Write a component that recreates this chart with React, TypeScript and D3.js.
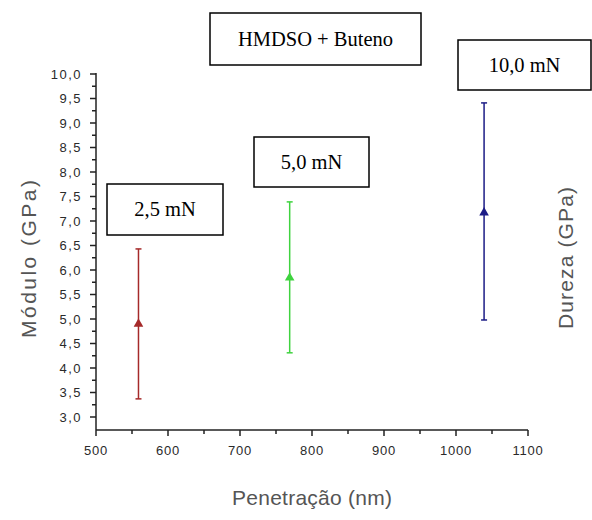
import React from 'react';
import * as d3 from 'd3';

// carga aplicada, penetração (nm), módulo (GPa) e barra de erro
const loads = ['2,5 mN', '5,0 mN', '10,0 mN'];
const penetration = [559, 769, 1039];
const modulus = [4.9, 5.84, 7.17];
const errLow = [3.37, 4.31, 4.98];
const errHigh = [6.43, 7.39, 9.41];
const colors = ['#a52a2a', '#3fd33f', '#1c1c86'];

const xTicks = [500, 600, 700, 800, 900, 1000, 1100];
const yTicks = [3, 3.5, 4, 4.5, 5, 5.5, 6, 6.5, 7, 7.5, 8, 8.5, 9, 9.5, 10];

// caixas de texto (rótulos) do gráfico original
const boxes = [
  { text: 'HMDSO + Buteno', x: 210, y: 13, w: 211, h: 52 },
  { text: '10,0 mN', x: 458, y: 40, w: 133, h: 50 },
  { text: '5,0 mN', x: 254, y: 137, w: 115, h: 50 },
  { text: '2,5 mN', x: 107, y: 184, w: 116, h: 51 },
];

const width = 592;
const height = 520;
const left = 96;
const right = 528;
const top = 74;
const bottom = 430;

const sans = "'Liberation Sans', Arial, sans-serif";
const serif = "'Liberation Serif', 'Times New Roman', serif";

const fmt = (v: number) => v.toFixed(1).replace('.', ',');

export default function App() {
  const x = d3.scaleLinear().domain([500, 1100]).range([left, right]);
  const y = d3.scaleLinear().domain([3, 10]).range([417, top]);

  const xMinor = d3.range(550, 1100, 100);
  const yMinor = d3.range(3.25, 10, 0.5);
  const yBottomVal = y.invert(bottom);
  const tri = d3.symbol().type(d3.symbolTriangle).size(40)();

  return (
    <div style={{ position: 'absolute', left: 0, top: 0 }}>
      <svg width={width} height={height} style={{ display: 'block', background: '#fff' }}>
        {/* eixo y */}
        <line x1={left} x2={left} y1={y(10) - 1} y2={bottom} stroke="#222" strokeWidth={1.5} />
        {yTicks.map((t) => (
          <g key={'y' + t}>
            <line x1={left - 6} x2={left} y1={y(t)} y2={y(t)} stroke="#222" strokeWidth={1.5} />
            <text
              x={left - 14}
              y={y(t)}
              dy="0.35em"
              textAnchor="end"
              style={{ fontFamily: sans, letterSpacing: '1.5px' }}
              fontSize={13}
              fill="#2a2a2a"
            >
              {fmt(t)}
            </text>
          </g>
        ))}
        {yMinor.filter((t) => t > yBottomVal).map((t) => (
          <line key={'ym' + t} x1={left - 4} x2={left} y1={y(t)} y2={y(t)} stroke="#222" strokeWidth={1.5} />
        ))}

        {/* eixo x */}
        <line x1={left} x2={right} y1={bottom} y2={bottom} stroke="#222" strokeWidth={1.5} />
        {xTicks.map((t) => (
          <g key={'x' + t}>
            <line x1={x(t)} x2={x(t)} y1={bottom} y2={bottom + 6} stroke="#222" strokeWidth={1.5} />
            <text
              x={x(t)}
              y={bottom + 20}
              dy="0.35em"
              textAnchor="middle"
              style={{ fontFamily: sans, letterSpacing: '0.8px' }}
              fontSize={13}
              fill="#2a2a2a"
            >
              {t}
            </text>
          </g>
        ))}
        {xMinor.map((t) => (
          <line key={'xm' + t} x1={x(t)} x2={x(t)} y1={bottom} y2={bottom + 4} stroke="#222" strokeWidth={1.5} />
        ))}

        {/* barras de erro e pontos */}
        {loads.map((l, i) => {
          const cx = x(penetration[i]);
          return (
            <g key={l}>
              <line x1={cx} x2={cx} y1={y(errHigh[i])} y2={y(errLow[i])} stroke={colors[i]} strokeWidth={1.5} />
              <line x1={cx - 3} x2={cx + 3} y1={y(errHigh[i])} y2={y(errHigh[i])} stroke={colors[i]} strokeWidth={1.5} />
              <line x1={cx - 3} x2={cx + 3} y1={y(errLow[i])} y2={y(errLow[i])} stroke={colors[i]} strokeWidth={1.5} />
              <path d={tri || ''} transform={`translate(${cx},${y(modulus[i])})`} fill={colors[i]} />
            </g>
          );
        })}

        {/* títulos dos eixos */}
        <text
          transform="translate(36,259) rotate(-90)"
          textAnchor="middle"
          style={{ fontFamily: sans }}
          fontSize={21}
          textLength={158}
          lengthAdjust="spacing"
          fill="#555"
        >
          Módulo (GPa)
        </text>
        <text
          transform="translate(573,258) rotate(-90)"
          textAnchor="middle"
          style={{ fontFamily: sans }}
          fontSize={21}
          textLength={142}
          lengthAdjust="spacing"
          fill="#555"
        >
          Dureza (GPa)
        </text>
        <text
          x={312}
          y={505}
          textAnchor="middle"
          style={{ fontFamily: sans }}
          fontSize={21}
          textLength={160}
          lengthAdjust="spacing"
          fill="#555"
        >
          Penetração (nm)
        </text>

        {/* caixas de texto */}
        {boxes.map((b) => (
          <g key={b.text}>
            <rect x={b.x} y={b.y} width={b.w} height={b.h} fill="#fff" stroke="#000" strokeWidth={1.5} />
            <text
              x={b.x + b.w / 2}
              y={b.y + b.h / 2}
              dy="0.33em"
              textAnchor="middle"
              style={{ fontFamily: serif }}
              fontSize={20.5}
              fill="#000"
            >
              {b.text}
            </text>
          </g>
        ))}
      </svg>
    </div>
  );
}
